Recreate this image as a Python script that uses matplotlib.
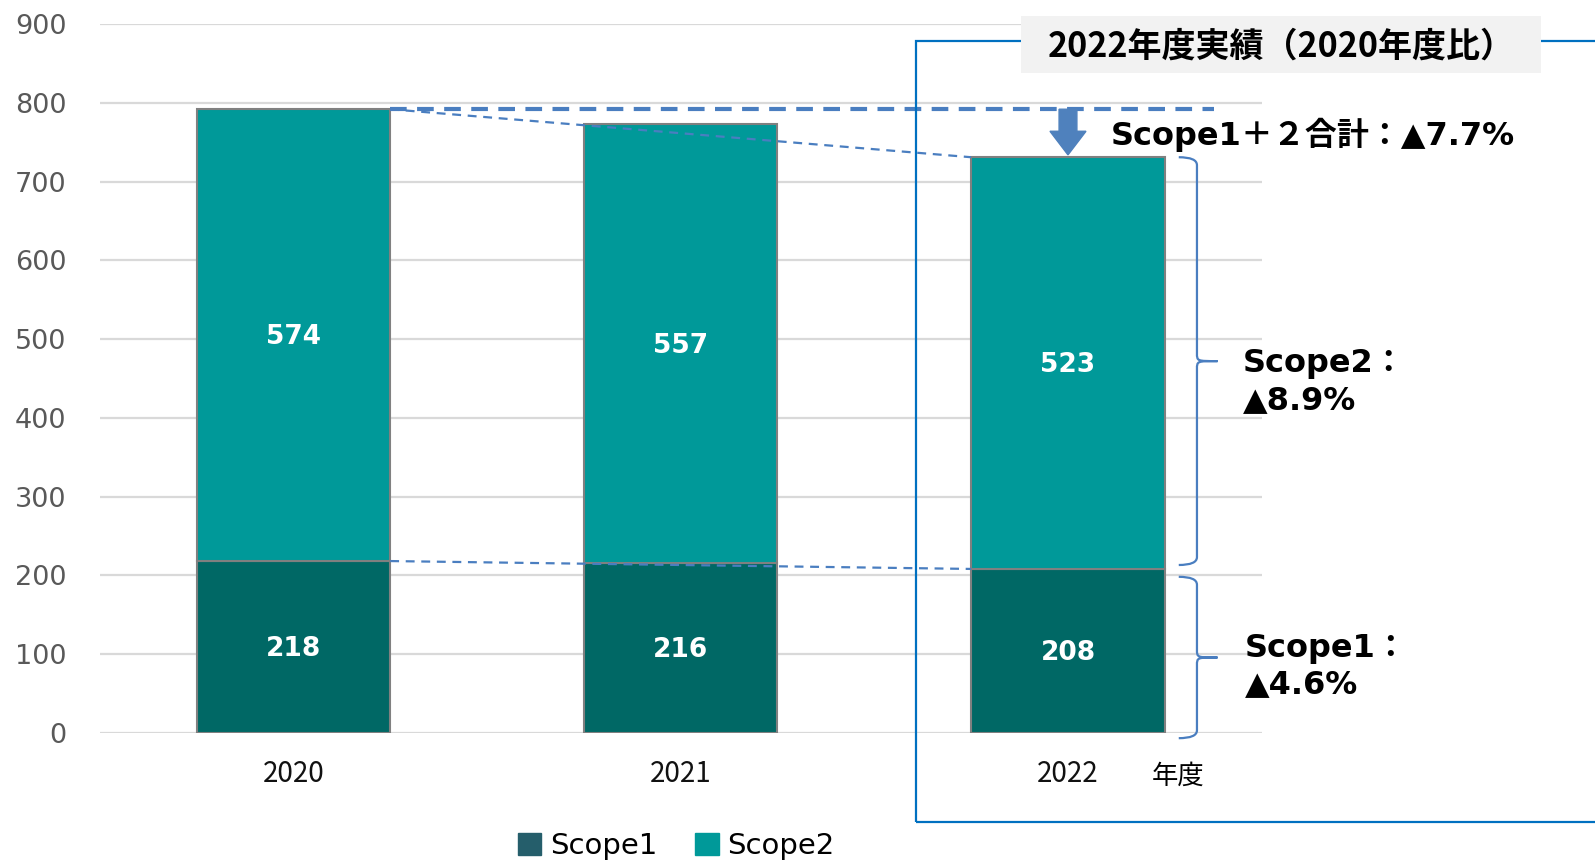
import matplotlib.pyplot as plt
from matplotlib.patches import Rectangle, Patch, FancyArrow, PathPatch
from matplotlib.path import Path

years = ['2020', '2021', '2022']
scope1 = [218, 216, 208]
scope2 = [574, 557, 523]
totals = [a + b for a, b in zip(scope1, scope2)]

c_s1 = '#006865'
c_s2 = '#009999'
c_blue = '#4A7EC0'
jp = ['DejaVu Sans', 'Noto Sans CJK JP']

fig = plt.figure(figsize=(15.95, 8.64), dpi=100)
ax = fig.add_axes([0.0625, 0.152, 0.7285, 0.820])

x = range(len(years))
ax.bar(x, scope1, width=0.5, color=c_s1, edgecolor='#808080', linewidth=1.5, zorder=3)
ax.bar(x, scope2, width=0.5, bottom=scope1, color=c_s2, edgecolor='#808080', linewidth=1.5, zorder=3)

for i in x:
    ax.text(i, scope1[i] / 2 - 3, str(scope1[i]), ha='center', va='center', color='white',
            fontsize=19, fontweight='bold', zorder=4)
    ax.text(i, scope1[i] + scope2[i] / 2 - 3, str(scope2[i]), ha='center', va='center',
            color='white', fontsize=19, fontweight='bold', zorder=4)

ax.set_xlim(-0.5, 2.5)
ax.set_ylim(0, 900)
ax.set_yticks(range(0, 901, 100))
ax.grid(axis='y', color='#D9D9D9', linewidth=1.6, zorder=0)
for s in ax.spines.values():
    s.set_visible(False)
ax.tick_params(axis='y', length=0, pad=24, labelsize=19.5, labelcolor='#595959')
ax.tick_params(axis='x', length=0, pad=19, labelsize=20, labelcolor='#111111')
ax.set_xticks(list(x))
ax.set_xticklabels(years, family='Noto Sans CJK JP')
ax.text(2.215, -56, '年度', fontsize=19, family='Noto Sans CJK JP', va='center')

# dashed guides from the 2020 level
ax.plot([0.25, 2.378], [totals[0], totals[0]], color=c_blue, lw=3, ls=(0, (4, 2.5)),
        zorder=5, clip_on=False)
ax.plot([0.25, 1.75], [totals[0], totals[2]], color=c_blue, lw=1.6, ls=(0, (4, 3)), zorder=5)
ax.plot([0.25, 1.75], [scope1[0], scope1[2]], color=c_blue, lw=1.6, ls=(0, (4, 3)), zorder=5)

# down arrow to the 2022 total
ax.add_patch(FancyArrow(2, totals[0], 0, totals[2] - totals[0] + 3, width=0.046,
                        head_width=0.093, head_length=30, length_includes_head=True,
                        color='#4F81BD', zorder=6, clip_on=False))
ax.text(2.11, 759, 'Scope1＋２合計：▲7.7%', family=jp, fontsize=23, fontweight='bold',
        va='center', ha='left')


def brace(y_top, y_bot, xe=2.286, xv=2.333, xt=2.386, r=10):
    ym = (y_top + y_bot) / 2
    verts = [(xe, y_top), (xv, y_top), (xv, y_top - r), (xv, ym + r),
             (xv, ym), (xv, ym), (xt, ym),
             (xv, ym), (xv, ym), (xv, ym - r), (xv, y_bot + r),
             (xv, y_bot), (xe, y_bot)]
    codes = [Path.MOVETO, Path.CURVE3, Path.CURVE3, Path.LINETO,
             Path.CURVE4, Path.CURVE4, Path.CURVE4,
             Path.CURVE4, Path.CURVE4, Path.CURVE4, Path.LINETO,
             Path.CURVE3, Path.CURVE3]
    ax.add_patch(PathPatch(Path(verts, codes), fill=False, edgecolor=c_blue, lw=1.6,
                           clip_on=False, zorder=5))


brace(totals[2], scope1[2] + 5)
brace(scope1[2] - 10, -7)
ax.text(2.451, 446, 'Scope2：\n▲8.9%', family=jp, fontsize=23, fontweight='bold',
        va='center', ha='left', linespacing=1.25)
ax.text(2.457, 84, 'Scope1：\n▲4.6%', family=jp, fontsize=23, fontweight='bold',
        va='center', ha='left', linespacing=1.25)

# frame around the 2022 summary
fig.add_artist(Rectangle((0.5746, 0.0486), 0.5, 0.9044, transform=fig.transFigure,
                         fill=False, edgecolor='#0070C0', lw=1.6, zorder=1))
fig.add_artist(Rectangle((0.640, 0.9153), 0.326, 0.0657, transform=fig.transFigure,
                         facecolor='#F2F2F2', edgecolor='none', zorder=2))
fig.text(0.803, 0.947, '2022年度実績（2020年度比）', family='Noto Sans CJK JP', fontsize=24.5,
         fontweight='bold', ha='center', va='center', zorder=3)

handles = [Patch(color='#255E6B', label='Scope1'), Patch(color=c_s2, label='Scope2')]
fig.legend(handles=handles, loc='center', bbox_to_anchor=(0.424, 0.021), ncol=2,
           frameon=False, handlelength=0.8, handleheight=0.8,
           handletextpad=0.3, columnspacing=1.3, prop={'family': jp, 'size': 21})

fig.savefig('out.png', dpi=100)
